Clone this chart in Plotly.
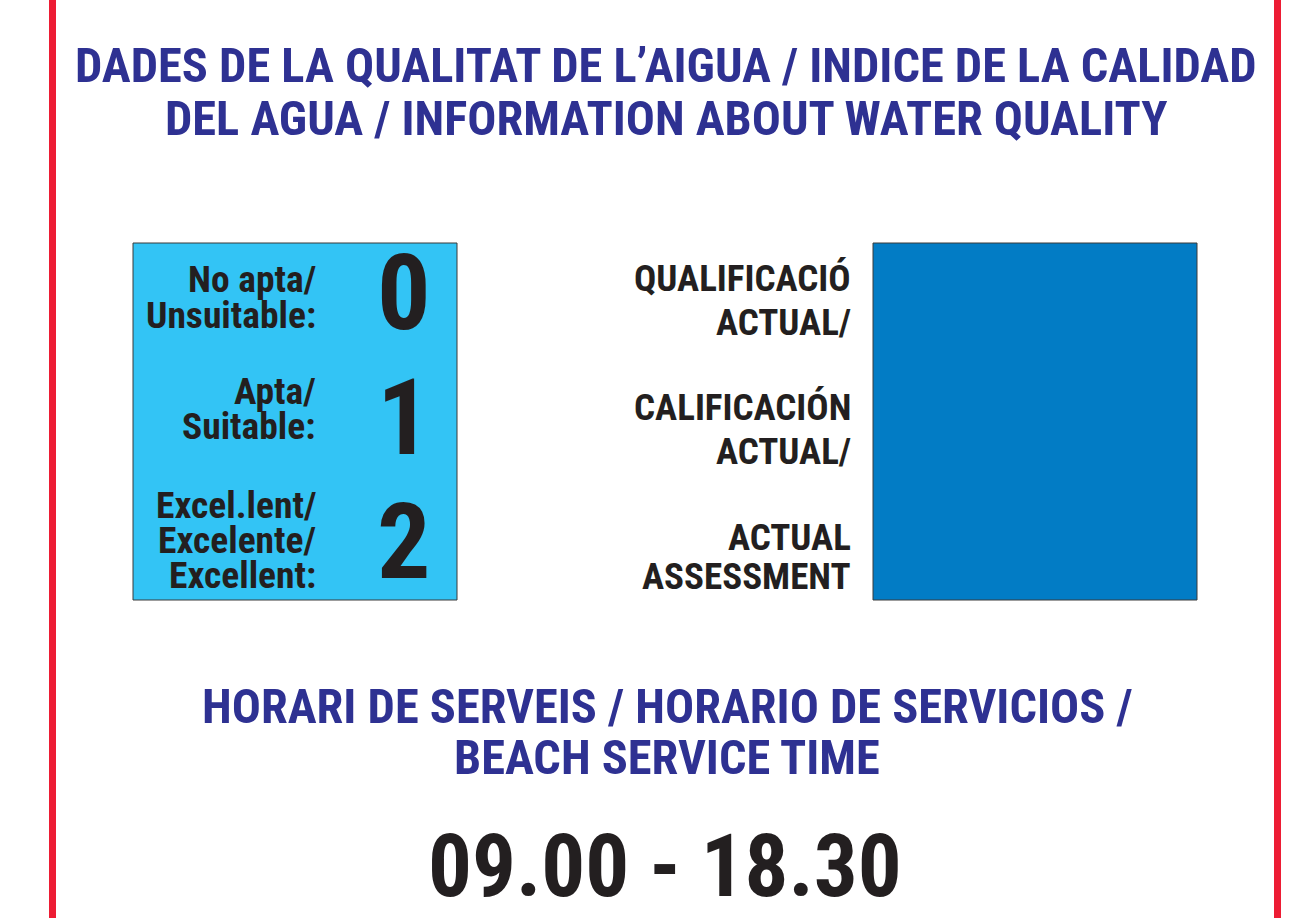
import plotly.graph_objects as go

# ---- content ----
title_lines = ["DADES DE LA QUALITAT DE L’AIGUA / INDICE DE LA CALIDAD",
               "DEL AGUA / INFORMATION ABOUT WATER QUALITY"]
grades = ["0", "1", "2"]
grade_labels = [["No apta/", "Unsuitable:"],
                ["Apta/", "Suitable:"],
                ["Excel.lent/", "Excelente/", "Excellent:"]]
assessment_lines = ["QUALIFICACIÓ", "ACTUAL/", "CALIFICACIÓN", "ACTUAL/", "ACTUAL", "ASSESSMENT"]
service_lines = ["HORARI DE SERVEIS / HORARIO DE SERVICIOS /", "BEACH SERVICE TIME"]
service_time = "09.00 - 18.30"

# ---- styling / layout positions ----
W, H = 1293, 918
FONT = "Roboto Condensed, Liberation Sans Narrow, DejaVu Sans Condensed, sans-serif"
NAVY = "#2E3192"
INK = "#231F20"
RED = "#ED1C34"
LIGHT = "#33C4F5"
DARK = "#027CC5"

title_y = [65, 118]
service_y = [706, 757]
time_y = 866
grade_y = [293, 418, 542]
label_y = [[279, 315], [391, 426], [505, 540, 575]]
assess_y = [278, 322, 407, 451, 537, 576]

fig = go.Figure()
fig.add_trace(go.Scatter(x=[0, W], y=[0, H], mode="markers",
                         marker=dict(opacity=0), hoverinfo="skip", showlegend=False))

shapes = [
    dict(type="rect", x0=49, x1=56, y0=-5, y1=H + 5, fillcolor=RED, line=dict(width=0)),
    dict(type="rect", x0=1274, x1=1281, y0=-5, y1=H + 5, fillcolor=RED, line=dict(width=0)),
    dict(type="rect", x0=133, x1=457, y0=243, y1=600, fillcolor=LIGHT,
         line=dict(color="#3a3a3a", width=1)),
    dict(type="rect", x0=873, x1=1197, y0=243, y1=600, fillcolor=DARK,
         line=dict(color="#3a3a3a", width=1)),
]

ann = []
def txt(x, y, t, size, color, xanchor="center"):
    ann.append(dict(x=x, y=y, text=t, showarrow=False, xanchor=xanchor, yanchor="middle",
                    font=dict(family=FONT, size=size, color=color), xref="x", yref="y"))

for t, y in zip(title_lines, title_y):
    txt(666, y, "<b>" + t + "</b>", 48.4, NAVY)
for t, y in zip(service_lines, service_y):
    txt(667, y, "<b>" + t + "</b>", 48.4, NAVY)
txt(665, time_y, "<b>" + service_time + "</b>", 87, INK)

for g, gy, labs, ly in zip(grades, grade_y, grade_labels, label_y):
    txt(404, gy, "<b>" + g + "</b>", 106, INK)
    for l, y in zip(labs, ly):
        txt(318, y, "<b>" + l + "</b>", 37.5, INK, xanchor="right")

for t, y in zip(assessment_lines, assess_y):
    txt(853, y, "<b>" + t + "</b>", 37, INK, xanchor="right")

fig.update_layout(
    width=W, height=H, margin=dict(l=0, r=0, t=0, b=0),
    paper_bgcolor="white", plot_bgcolor="white",
    xaxis=dict(range=[0, W], visible=False, fixedrange=True),
    yaxis=dict(range=[H, 0], visible=False, fixedrange=True),
    shapes=shapes, annotations=ann, showlegend=False,
)
fig.write_html("out.html", config={"displayModeBar": False},
               post_script="document.body.style.margin='0';")
